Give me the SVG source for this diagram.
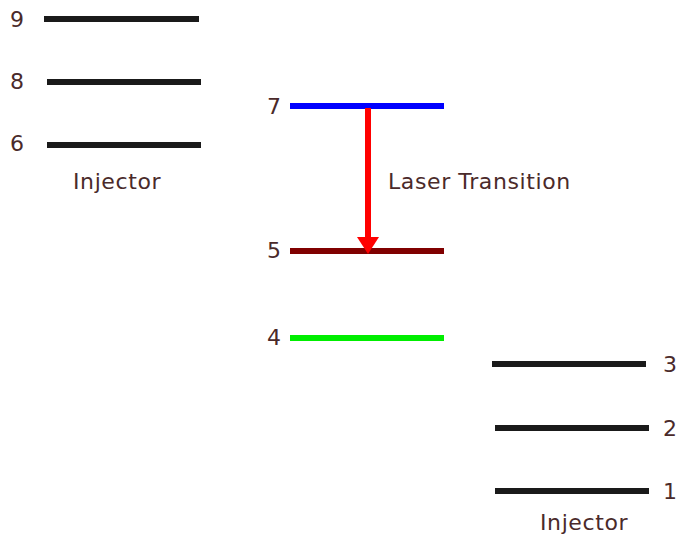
<svg xmlns="http://www.w3.org/2000/svg" width="678" height="540" viewBox="0 0 678 540">
  <style>
    .lvl { stroke-width: 6; fill: none; }
    .inj { stroke: #1a1a1a; }
    .lbl { font-family: "DejaVu Sans", Verdana, sans-serif; font-size: 22px; letter-spacing: 0.6px; fill: #4a2a2a; }
  </style>
  <rect width="678" height="540" fill="#ffffff"/>

  <!-- upper injector levels -->
  <g id="level9"><line class="lvl inj" x1="44" y1="19" x2="199" y2="19"/><text class="lbl" x="10" y="27">9</text></g>
  <g id="level8"><line class="lvl inj" x1="47" y1="82" x2="201" y2="82"/><text class="lbl" x="10" y="89">8</text></g>
  <g id="level6"><line class="lvl inj" x1="47" y1="145" x2="201" y2="145"/><text class="lbl" x="10" y="151">6</text></g>
  <g id="injectorTop"><text class="lbl" x="73" y="189">Injector</text></g>

  <!-- active region levels -->
  <g id="level7"><line class="lvl" stroke="#0000ff" x1="290" y1="106" x2="444" y2="106"/><text class="lbl" x="267" y="114">7</text></g>
  <g id="level5"><line class="lvl" stroke="#800000" x1="290" y1="251" x2="444" y2="251"/><text class="lbl" x="267" y="258">5</text></g>
  <g id="level4"><line class="lvl" stroke="#00ee00" x1="290" y1="338" x2="444" y2="338"/><text class="lbl" x="267" y="345">4</text></g>

  <!-- lower injector levels -->
  <g id="level3"><line class="lvl inj" x1="492" y1="364" x2="646" y2="364"/><text class="lbl" x="663" y="372">3</text></g>
  <g id="level2"><line class="lvl inj" x1="495" y1="428" x2="649" y2="428"/><text class="lbl" x="663" y="436">2</text></g>
  <g id="level1"><line class="lvl inj" x1="495" y1="491" x2="649" y2="491"/><text class="lbl" x="663" y="499">1</text></g>
  <g id="injectorBottom"><text class="lbl" x="540" y="530">Injector</text></g>

  <!-- laser transition 7 -> 5 -->
  <g id="connectors">
    <line x1="368" y1="108" x2="368" y2="239" stroke="#ff0000" stroke-width="6"/>
    <polygon points="357,237 379,237 368,254" fill="#ff0000"/>
  </g>
  <g id="laserLabel"><text class="lbl" x="388" y="189">Laser Transition</text></g>
</svg>
